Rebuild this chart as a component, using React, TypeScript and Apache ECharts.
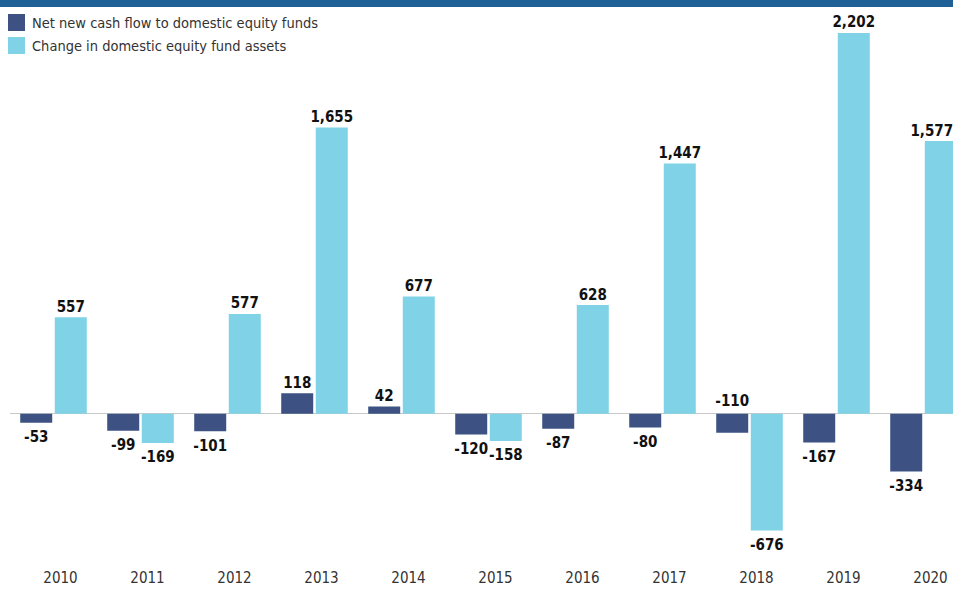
import React, { useEffect, useRef } from "react";
import * as echarts from "echarts";

const years = ["2010", "2011", "2012", "2013", "2014", "2015", "2016", "2017", "2018", "2019", "2020"];
const netCashFlow = [-53, -99, -101, 118, 42, -120, -87, -80, -110, -167, -334];
const assetChange = [557, -169, 577, 1655, 677, -158, 628, 1447, -676, 2202, 1577];
const seriesNames = ["Net new cash flow to domestic equity funds", "Change in domestic equity fund assets"];
// labels that sit above the zero line although the value is negative
const labelAboveIdx = [8];

const FONT = "'DejaVu Sans Condensed', 'Liberation Sans Narrow', sans-serif";
const fmt = (v: number) => v.toLocaleString("en-US");

function items(values: number[], aboveIdx: number[], lastShift = 0) {
  return values.map((v, i) => {
    const up = v >= 0 || aboveIdx.includes(i);
    const dx = i === values.length - 1 ? lastShift : 0;
    return {
      value: v,
      label: {
        position: v >= 0 ? "top" : up ? "insideBottom" : "bottom",
        distance: v >= 0 ? 3 : 7,
        offset: v < 0 && up ? [dx, -17] : [dx, 0],
      },
    };
  });
}

export default function App() {
  const ref = useRef<HTMLDivElement>(null);
  useEffect(() => {
    if (!ref.current) return;
    const chart = echarts.init(ref.current, undefined, { renderer: "svg" });
    const labelStyle = {
      show: true,
      fontFamily: FONT,
      fontWeight: "bold" as const,
      fontSize: 15,
      color: "#111",
      formatter: (p: any) => fmt(p.value),
    };
    chart.setOption({
      animation: false,
      graphic: [
        { type: "rect", left: 0, top: 0, shape: { width: 967, height: 7 }, style: { fill: "#1f6096" }, z: 10 },
      ],
      legend: {
        orient: "vertical",
        left: 8,
        top: 14,
        padding: 0,
        itemWidth: 17,
        itemHeight: 17,
        itemGap: 6,
        icon: "rect",
        textStyle: { fontFamily: FONT, fontSize: 14.5, color: "#333", padding: [0, 0, 0, 2] },
        data: seriesNames,
      },
      grid: { left: 10, right: 0, top: 16, bottom: 37, containLabel: false },
      xAxis: {
        type: "category",
        data: years,
        axisLine: { show: false, onZero: false },
        axisTick: { show: false },
        axisLabel: { fontFamily: FONT, fontSize: 15, color: "#333", margin: 18, padding: [0, 0, 0, 14] },
      },
      yAxis: {
        type: "value",
        min: -800,
        max: 2300,
        show: false,
        splitLine: { show: false },
      },
      series: [
        {
          name: seriesNames[0],
          type: "bar",
          barWidth: 32,
          barGap: "8%",
          itemStyle: { color: "#3d5283" },
          label: labelStyle,
          data: items(netCashFlow, labelAboveIdx),
          markLine: {
            silent: true,
            symbol: "none",
            label: { show: false },
            lineStyle: { color: "#c8c8c8", width: 1, type: "solid" },
            data: [{ yAxis: 0 }],
            z: 0,
          },
        },
        {
          name: seriesNames[1],
          type: "bar",
          barWidth: 32,
          barGap: "8%",
          itemStyle: { color: "#80d3e6" },
          label: labelStyle,
          data: items(assetChange, [], -9),
        },
      ],
    });
    return () => chart.dispose();
  }, []);
  return (
    <div style={{ width: 953, height: 589, position: "absolute", left: 0, top: 0, overflow: "hidden" }}>
      <div ref={ref} style={{ width: 967, height: 589 }} />
    </div>
  );
}
